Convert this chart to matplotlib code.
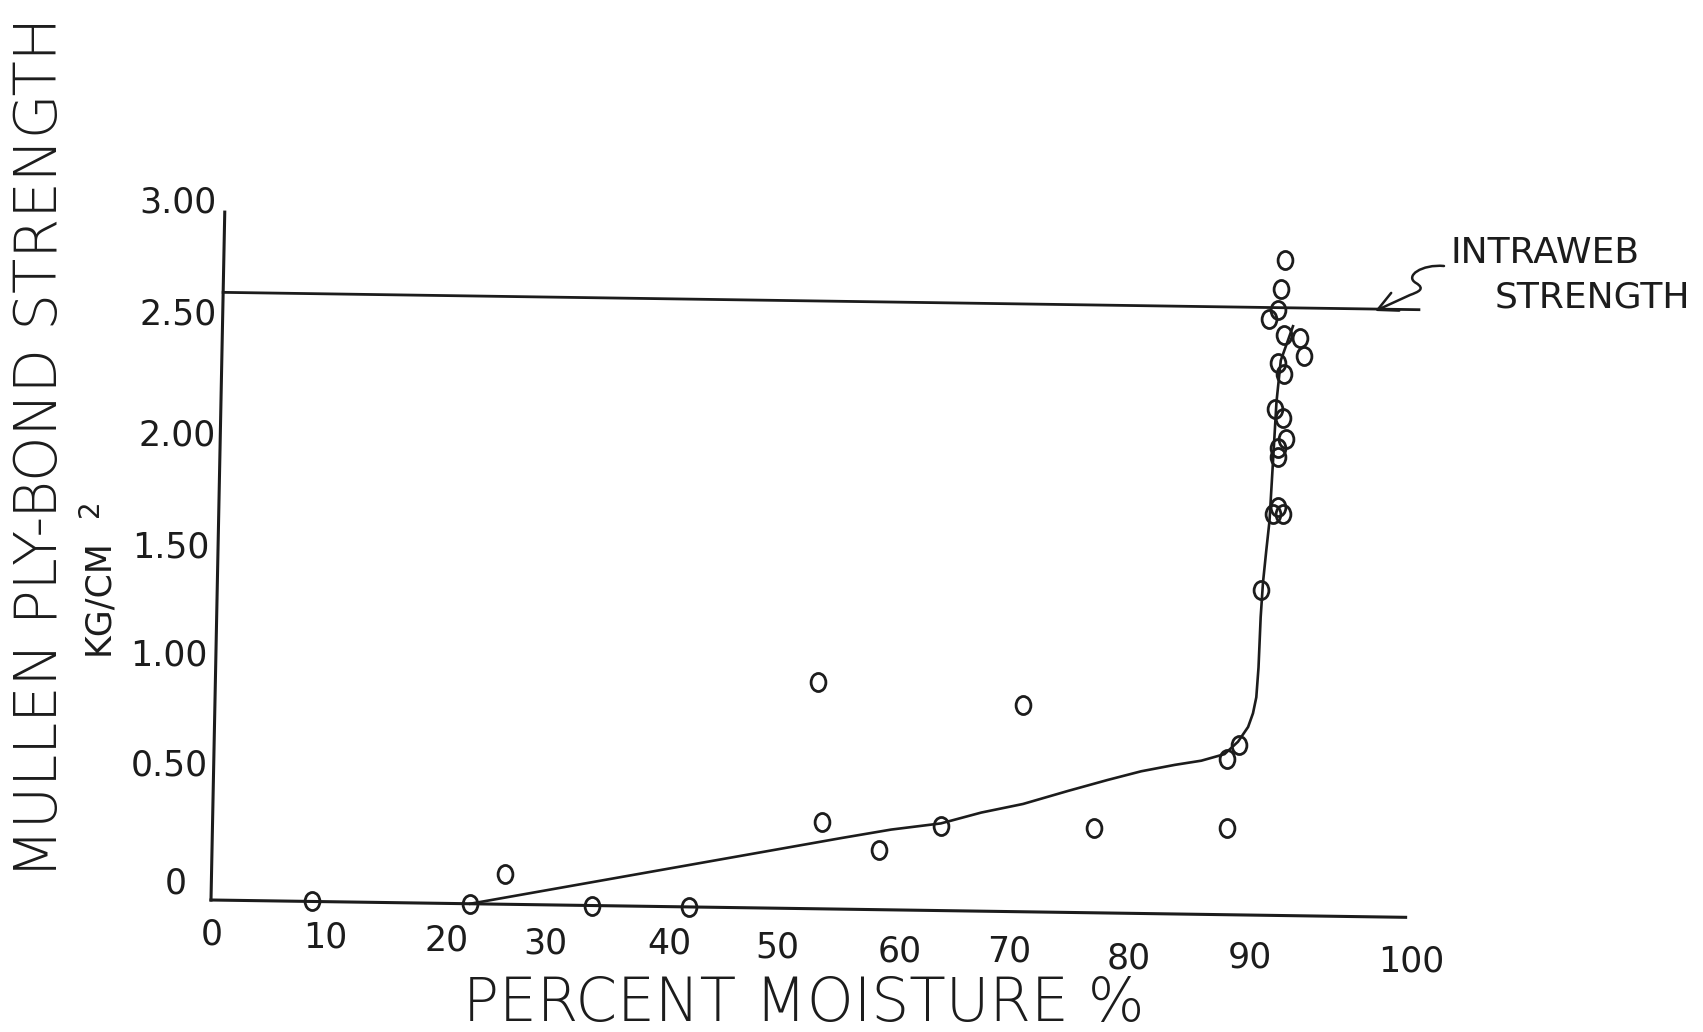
import numpy as np
import matplotlib
matplotlib.use("Agg")
import matplotlib.pyplot as plt
from matplotlib.path import Path
from matplotlib.patches import FancyArrowPatch
from matplotlib.transforms import Affine2D, ScaledTranslation

INK = "#1c1c1c"
FONT = "DejaVu Sans"
plt.rcParams.update({"font.family": FONT, "text.color": INK})

# ── data ─────────────────────────────────────────────────────
moisture = [8.8, 22.5, 25.5, 33.1, 41.5, 52.3, 52.9, 57.9, 63.2, 70.1, 76.5,
            88.0, 87.9, 88.9, 90.6, 91.5, 91.9, 92.4, 91.8, 91.8, 92.5, 92.2,
            91.5, 92.2, 91.7, 93.9, 93.5, 92.1, 90.8, 91.6, 91.8, 92.1]
strength = [0.0, 0.0, 0.13, 0.0, 0.0, 0.99, 0.38, 0.26, 0.37, 0.90, 0.37,
            0.38, 0.68, 0.74, 1.42, 1.75, 1.78, 1.75, 2.00, 2.04, 2.08, 2.17,
            2.21, 2.36, 2.41, 2.44, 2.52, 2.53, 2.60, 2.64, 2.73, 2.86]

# hand-fitted trend curve
curve_x = [22.5, 54.6, 58.9, 63.2, 66.7, 70.3, 74.2, 77.6, 80.5, 83.4,
           85.7, 87.7, 88.85, 89.7, 90.1, 90.36, 90.5, 90.6, 90.74, 90.97,
           91.2, 91.6, 91.9, 92.9]
curve_y = [0.0, 0.31, 0.35, 0.38, 0.43, 0.47, 0.53, 0.58, 0.62, 0.65,
           0.67, 0.70, 0.755, 0.82, 0.88, 0.95, 1.08, 1.30, 1.45, 1.59,
           1.72, 2.24, 2.42, 2.57]

intraweb = 2.65

xticks = [0, 10, 20, 30, 40, 50, 60, 70, 80, 90, 100]
yticks = [0, 0.5, 1.0, 1.5, 2.0, 2.5, 3.0]
ytick_labels = ["0", "0.50", "1.00", "1.50", "2.00", "2.50", "3.00"]

XMAX, YMAX = 103.7, 3.0

# ── canvas ───────────────────────────────────────────────────
W, H = 1703, 1032
fig = plt.figure(figsize=(W / 100, H / 100), dpi=100)
fig.patch.set_facecolor("white")

# plot box in pixels, measured from the top-left corner
L, B = 211, 900
R = L + XMAX * 11.52
T = B - YMAX * 229.3
ax = fig.add_axes([L / W, 1 - B / H, (R - L) / W, (B - T) / H])
ax.set_xlim(0, XMAX)
ax.set_ylim(0, YMAX)
for s in ax.spines.values():
    s.set_visible(False)

# the pen-drawn frame sits a little askew: x axis drops to the right,
# y axis leans right going up
lean, drop = 0.02, 0.0145
ox, oy = L, H - B
tilt = (Affine2D().translate(-ox, -oy)
        + Affine2D(np.array([[1.0, lean, 0.0], [-drop, 1.0, 0.0], [0, 0, 1]]))
        + Affine2D().translate(ox, oy))
skew = ax.transData + tilt

ax.plot([0, XMAX], [0, 0], color=INK, lw=2.2, transform=skew, clip_on=False)
ax.plot([0, 0], [0, YMAX], color=INK, lw=2.2, transform=skew, clip_on=False)
ax.plot([0, XMAX + 0.1], [intraweb, intraweb], color=INK, lw=2.0,
        transform=skew, clip_on=False)

ax.plot(curve_x, curve_y, color=INK, lw=1.9, solid_joinstyle="round",
        transform=skew, clip_on=False, zorder=3)

# slightly tall open rings
ring = Path.unit_circle().transformed(Affine2D().scale(0.82, 1.0))
ax.plot(moisture, strength, ls="none", marker=ring, ms=13, mfc="none",
        mec=INK, mew=2.0, transform=skew, clip_on=False, zorder=4)

# ── tick labels (no tick marks) ──────────────────────────────
ax.set_xticks(xticks)
ax.set_xticklabels([str(v) for v in xticks], fontsize=25)
ax.set_yticks(yticks)
ax.set_yticklabels(ytick_labels, fontsize=25)
ax.tick_params(axis="both", length=0, pad=0, colors=INK)

# hand-lettered label spots (pixel centres / right edges)
xlab_cx = [211.5, 325, 447, 545, 669, 777, 900, 1009, 1129, 1250, 1411]
xlab_cy = [934.5, 937.5, 940.5, 943, 943.5, 947.5, 951, 951.5, 958.5, 958, 961]
ylab_right = [187, 207.5, 208, 210, 215.5, 217, 217]
ylab_cy = [884, 765, 656, 548, 436, 314.5, 202.5]

for tick, v, cx, cy in zip(ax.xaxis.get_major_ticks(), xticks, xlab_cx, xlab_cy):
    px_x = L + v / XMAX * (R - L)
    off = ScaledTranslation((cx - px_x) / 100, -(cy - B) / 100,
                            fig.dpi_scale_trans)
    tick.label1.set_verticalalignment("center")
    tick.label1.set_transform(tick.label1.get_transform() + off)

for tick, v, rx, cy in zip(ax.yaxis.get_major_ticks(), yticks, ylab_right, ylab_cy):
    px_y = B - v / YMAX * (B - T)
    off = ScaledTranslation((rx - L) / 100, -(cy - px_y) / 100,
                            fig.dpi_scale_trans)
    tick.label1.set_verticalalignment("center")
    tick.label1.set_transform(tick.label1.get_transform() + off)

# ── axis titles ──────────────────────────────────────────────
ax.set_xlabel("PERCENT MOISTURE %", fontsize=43, fontweight="light",
              color=INK, va="center")
ax.xaxis.set_label_coords((804 - L) / (R - L), -(1005 - B) / (B - T))
ax.set_ylabel("MULLEN PLY-BOND STRENGTH", fontsize=41.5, fontweight="light",
              color=INK, va="center")
ax.yaxis.set_label_coords((41 - L) / (R - L), (B - 447) / (B - T))

fig.text(98 / W, 1 - 597 / H, "KG/CM", rotation=90, fontsize=25,
         ha="center", va="center", color=INK)
fig.text(90 / W, 1 - 508 / H, "2", rotation=90, fontsize=20,
         ha="center", va="center", color=INK)

# ── intraweb callout ─────────────────────────────────────────
fig.text(1450 / W, 1 - 253 / H, "INTRAWEB", fontsize=26, ha="left",
         va="center", color=INK)
fig.text(1495 / W, 1 - 297 / H, "STRENGTH", fontsize=26, ha="left",
         va="center", color=INK)

def px(x, y):
    return (x / 100, (H - y) / 100)

verts = [px(1444, 266),
         px(1422, 264), px(1404, 276), px(1416, 283),
         px(1426, 289), px(1418, 292), px(1410, 295),
         px(1375, 311)]
codes = [Path.MOVETO,
         Path.CURVE4, Path.CURVE4, Path.CURVE4,
         Path.CURVE4, Path.CURVE4, Path.CURVE4,
         Path.LINETO]
arrow = FancyArrowPatch(path=Path(verts, codes), transform=fig.dpi_scale_trans,
                        arrowstyle="->,head_length=0.7,head_width=0.35",
                        mutation_scale=20, lw=1.8, color=INK)
fig.add_artist(arrow)

fig.savefig("out.png", dpi=100, facecolor="white")
